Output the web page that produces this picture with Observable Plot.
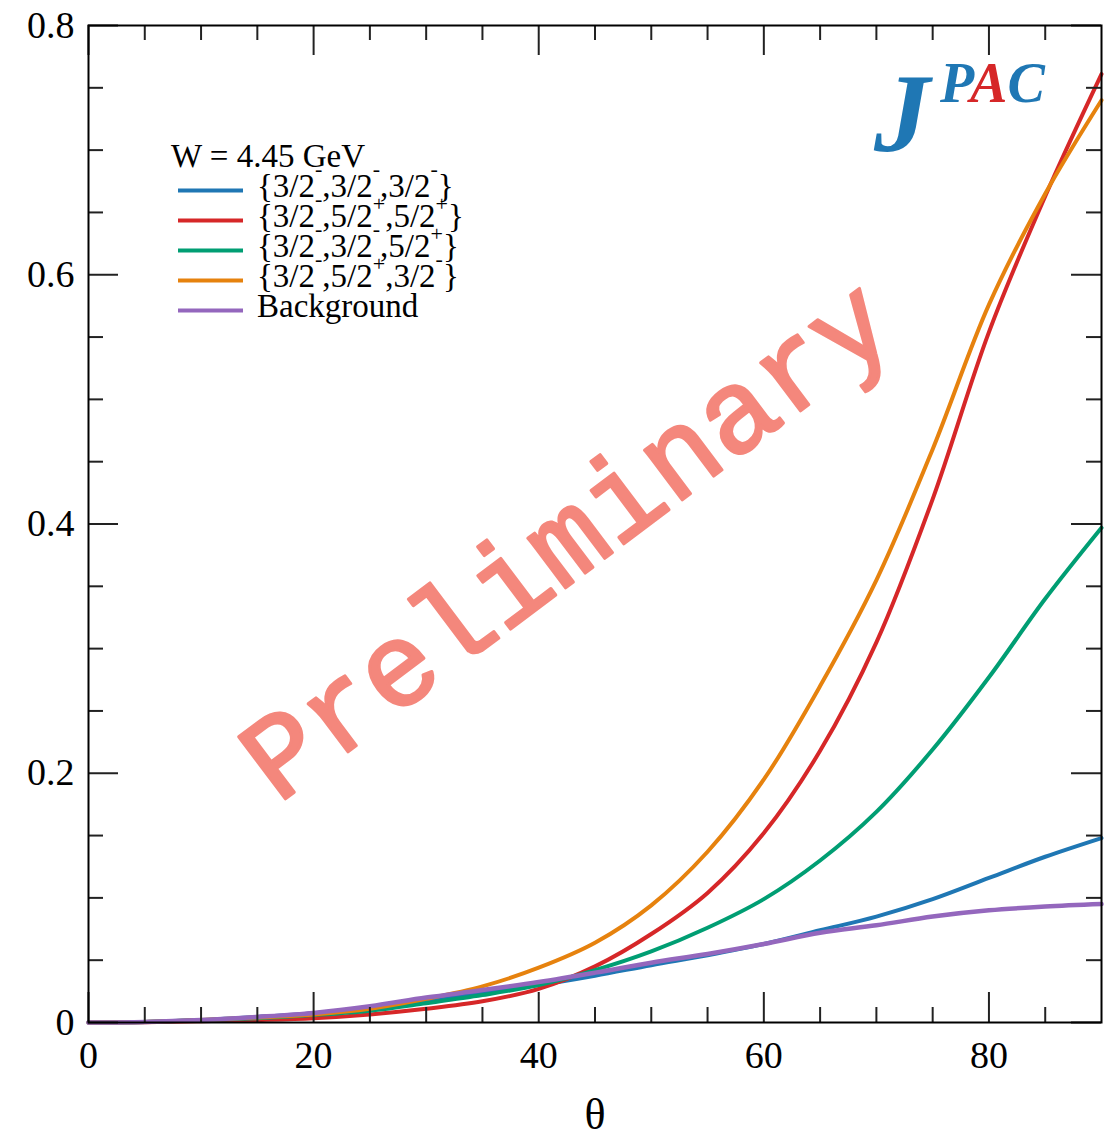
<!DOCTYPE html>
<html><head><meta charset="utf-8">
<script src="https://cdn.jsdelivr.net/npm/d3@7"></script>
<script src="https://cdn.jsdelivr.net/npm/@observablehq/plot@0.6"></script>
<style>
body{margin:0;background:#fff;}
#wrap{position:relative;width:1119px;height:1137px;}
</style></head><body><div id="wrap"></div>
<script>
// ---- data ----
const theta = [0,5,10,15,20,25,30,35,40,45,50,55,60,65,70,75,80,85,90];
const blueVals   = [0,0.0005,0.002,0.0045,0.0075,0.012,0.018,0.024,0.030,0.0375,0.046,0.054,0.063,0.074,0.085,0.099,0.116,0.133,0.148];
const redVals    = [0,0.0003,0.001,0.002,0.0035,0.0065,0.011,0.017,0.027,0.045,0.071,0.104,0.152,0.218,0.305,0.420,0.554,0.663,0.761];
const greenVals  = [0,0.0005,0.002,0.0035,0.006,0.0095,0.0155,0.022,0.030,0.042,0.057,0.076,0.099,0.130,0.169,0.219,0.277,0.340,0.397];
const orangeVals = [0,0.0005,0.002,0.004,0.0065,0.011,0.019,0.029,0.044,0.064,0.094,0.137,0.195,0.270,0.355,0.460,0.576,0.665,0.740];
const purpleVals = [0,0.0005,0.002,0.0045,0.0077,0.013,0.020,0.026,0.0325,0.040,0.048,0.055,0.063,0.072,0.078,0.085,0.090,0.093,0.095];

const seriesKeys   = ["b","r","g","o","p"];
const seriesColors = ["#1f77b4","#d62728","#009e73","#e6820e","#9467bd"];
const seriesVals   = [blueVals, redVals, greenVals, orangeVals, purpleVals];
// legend labels: parts as [text, isSuperscript]
const legendLabels = [
  [["{3/2",0],["-",1],[",3/2",0],["-",1],[",3/2",0],["-",1],["}",0]],
  [["{3/2",0],["-",1],[",5/2",0],["+",1],[",5/2",0],["+",1],["}",0]],
  [["{3/2",0],["-",1],[",3/2",0],["-",1],[",5/2",0],["+",1],["}",0]],
  [["{3/2",0],["-",1],[",5/2",0],["+",1],[",3/2",0],["-",1],["}",0]],
  [["Background",0]]
];
const legendTitle = "W = 4.45 GeV";
const watermark = "Preliminary";
const xMajor = [0,20,40,60,80];
const xMinor = [5,10,15,25,30,35,45,50,55,65,70,75,85];
const yMajor = [0,0.2,0.4,0.6,0.8];
const yMinor = [0.05,0.1,0.15,0.25,0.3,0.35,0.45,0.5,0.55,0.65,0.7,0.75];
const yLabels = ["0","0.2","0.4","0.6","0.8"];
const xTitle = "θ";

// ---- layout ----
const W = 1119, H = 1137, mL = 88, mT = 25, mR = 18, mB = 115;
const ph = H - mT - mB, pw = W - mL - mR;
const serif = "'Liberation Serif','Times New Roman',serif";

const rows = seriesKeys.map((k, i) => theta.map((t, j) => ({theta: t, value: seriesVals[i][j], key: k})));

const tickStyle = {stroke: "#222", strokeWidth: 2};
const marks = [];
rows.forEach((r, i) => {
  marks.push(Plot.line(r, {x: "theta", y: "value", stroke: seriesColors[i], strokeWidth: i === 4 ? 4.5 : 4, curve: "catmull-rom"}));
});
marks.push(
  Plot.tickX(xMajor, {x: d => d, insetTop: ph - 30, ...tickStyle}),
  Plot.tickX(xMajor, {x: d => d, insetBottom: ph - 30, ...tickStyle}),
  Plot.tickX(xMinor, {x: d => d, insetTop: ph - 15, ...tickStyle}),
  Plot.tickX(xMinor, {x: d => d, insetBottom: ph - 15, ...tickStyle}),
  Plot.tickY(yMajor, {y: d => d, insetRight: pw - 30, ...tickStyle}),
  Plot.tickY(yMajor, {y: d => d, insetLeft: pw - 30, ...tickStyle}),
  Plot.tickY(yMinor, {y: d => d, insetRight: pw - 15, ...tickStyle}),
  Plot.tickY(yMinor, {y: d => d, insetLeft: pw - 15, ...tickStyle}),
  Plot.frame({stroke: "#000", strokeWidth: 2}),
  Plot.text(xMajor, {x: d => d, frameAnchor: "bottom", dy: 33, text: d => String(d), fontSize: 38, fill: "#000", lineAnchor: "middle"}),
  Plot.text(yMajor, {y: d => d, frameAnchor: "left", dx: -14, textAnchor: "end", text: (d, i) => yLabels[i], fontSize: 38, fill: "#000", lineAnchor: "middle"}),
  Plot.text([xTitle], {frameAnchor: "bottom", dy: 92, text: d => d, fontSize: 44, fill: "#000", lineAnchor: "middle"})
);

const plot = Plot.plot({
  width: W, height: H, marginLeft: mL, marginTop: mT, marginRight: mR, marginBottom: mB,
  style: {fontFamily: serif, background: "#fff", overflow: "visible"},
  x: {domain: [0, 90], axis: null},
  y: {domain: [0, 0.8], axis: null},
  marks
});
document.getElementById("wrap").appendChild(plot);

const svg = d3.select(plot);
// watermark underneath the curves
svg.insert("text", "g")
  .attr("transform", "translate(570,545) rotate(-37)")
  .attr("text-anchor", "middle").attr("dominant-baseline", "central")
  .attr("font-family", "'Liberation Mono','DejaVu Sans Mono',monospace")
  .attr("font-size", 118)
  .attr("fill", "#f4877c").attr("stroke", "#f4877c").attr("stroke-width", 3)
  .attr("stroke-linejoin", "round").attr("stroke-linecap", "round")
  .text(watermark);

// legend
const lg = svg.append("g").attr("font-family", serif).attr("fill", "#000").attr("text-anchor", "start");
lg.append("text").attr("x", 171).attr("y", 167).attr("font-size", 33).text(legendTitle);
legendLabels.forEach((parts, i) => {
  const y = 190.5 + 30 * i;
  lg.append("line").attr("x1", 178).attr("x2", 243).attr("y1", y).attr("y2", y)
    .attr("stroke", seriesColors[i]).attr("stroke-width", 4);
  const t = lg.append("text").attr("x", 257).attr("y", y + 6).attr("font-size", 33);
  let shift = 0;
  parts.forEach(([s, sup]) => {
    const ts = t.append("tspan").text(s);
    if (sup) { shift = s === "+" ? 16 : 21; ts.attr("font-size", 22).attr("dy", -shift); }
    else if (shift) { ts.attr("dy", shift); shift = 0; }
  });
});

// JPAC logo
const logo = svg.append("g").attr("font-family", serif).attr("font-weight", "bold").attr("font-style", "italic").attr("text-anchor", "start");
logo.append("text").attr("x", 874).attr("y", 151).attr("font-size", 112).attr("fill", "#1f77b4").text("J");
const pac = logo.append("text").attr("x", 940).attr("y", 102).attr("font-size", 56);
pac.append("tspan").attr("fill", "#1f77b4").text("P");
pac.append("tspan").attr("fill", "#d62728").text("A");
pac.append("tspan").attr("fill", "#1f77b4").text("C");
</script></body></html>
